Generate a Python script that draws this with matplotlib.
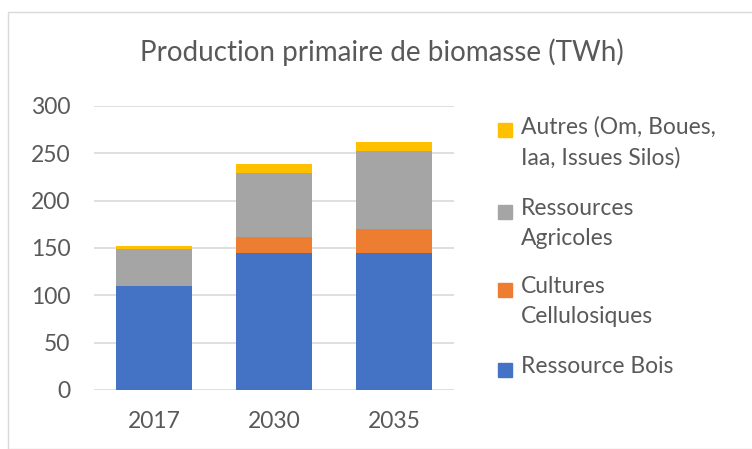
import matplotlib.pyplot as plt
from matplotlib.patches import Rectangle
import numpy as np

plt.rcParams["font.family"] = ["Lato", "DejaVu Sans"]

years = ["2017", "2030", "2035"]
bois = [110, 145, 145]
cultures = [0, 17, 25]
agricoles = [39, 67, 82]
autres = [3, 9.5, 10]

series = [
    ("Ressource Bois", bois, "#4472C4"),
    ("Cultures\nCellulosiques", cultures, "#ED7D31"),
    ("Ressources\nAgricoles", agricoles, "#A5A5A5"),
    ("Autres (Om, Boues,\nIaa, Issues Silos)", autres, "#FFC000"),
]

W, H = 752, 449
fig = plt.figure(figsize=(W / 100, H / 100), dpi=100)
ax = fig.add_axes([94 / W, 1 - 390 / H, 360 / W, 284 / H])

# outer chart frame
fig.add_artist(Rectangle((8 / W, 0), 1, 1 - 12 / H, transform=fig.transFigure,
                         fill=False, edgecolor="#d9d9d9", linewidth=1))

x = np.arange(len(years))
bottom = np.zeros(len(years))
for name, vals, col in series:
    ax.bar(x, vals, 0.64, bottom=bottom, color=col, zorder=3)
    bottom += np.array(vals)

ax.set_xlim(-0.5, 2.5)
ax.set_ylim(0, 300)
ax.set_yticks(range(0, 301, 50))
ax.set_xticks(x)
ax.set_xticklabels(years)
ax.grid(axis="y", color="#d9d9d9", linewidth=1.2, zorder=0)
for s in ax.spines.values():
    s.set_visible(False)
ax.tick_params(length=0, labelsize=16.5, labelcolor="#595959")
ax.tick_params(axis="y", pad=17)
ax.tick_params(axis="x", pad=15)

fig.text(382 / W, 1 - 52 / H, "Production primaire de biomasse (TWh)",
         ha="center", va="center", fontsize=20, color="#595959")

# legend, top entry first, square aligned with first text line
legend_y = [130, 212, 290, 370]
for (name, vals, col), ly in zip(series[::-1], legend_y):
    fig.add_artist(Rectangle((498 / W, 1 - (ly + 7) / H), 14 / W, 14 / H,
                             transform=fig.transFigure, color=col))
    fig.text(521 / W, 1 - (ly - 14) / H, name, ha="left", va="top",
             fontsize=16.5, color="#595959", linespacing=1.55)

fig.savefig("out.png", dpi=100)
